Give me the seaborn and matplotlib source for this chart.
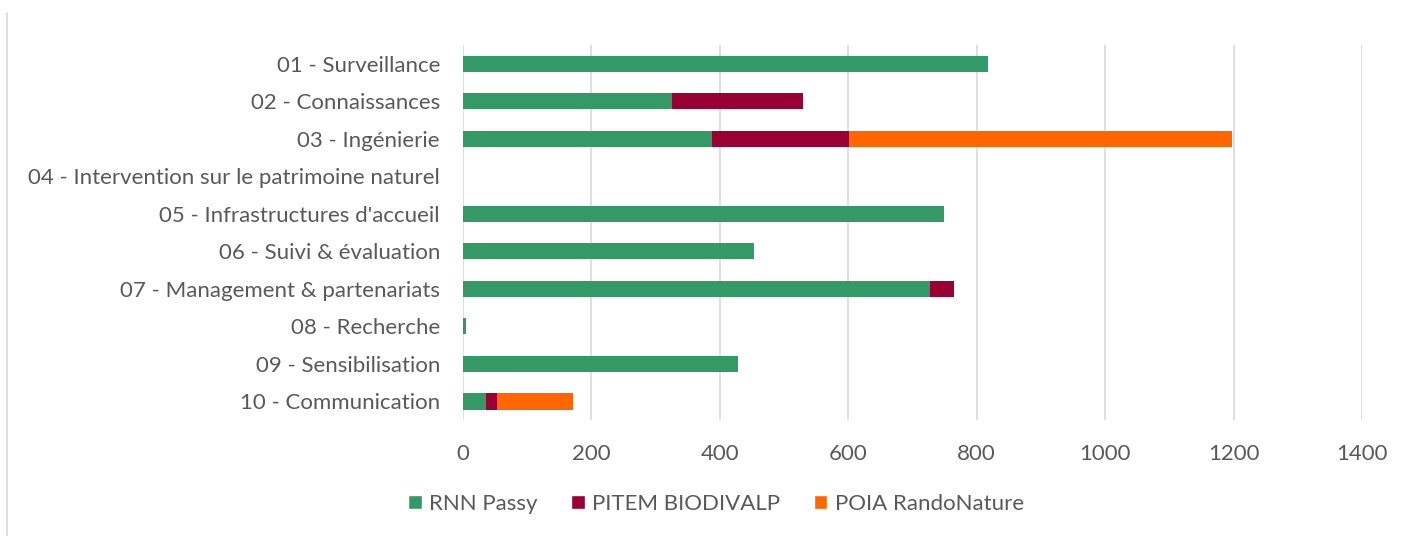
import pandas as pd
import numpy as np
import matplotlib
matplotlib.use("Agg")
import matplotlib.pyplot as plt
import seaborn as sns
from matplotlib.patches import Patch
from matplotlib.lines import Line2D

categories = [
    "01 - Surveillance",
    "02 - Connaissances",
    "03 - Ingénierie",
    "04 - Intervention sur le patrimoine naturel",
    "05 - Infrastructures d'accueil",
    "06 - Suivi & évaluation",
    "07 - Management & partenariats",
    "08 - Recherche",
    "09 - Sensibilisation",
    "10 - Communication",
]
rnn_passy = [817, 325, 388, 0, 749, 453, 727, 5, 429, 36]
pitem_biodivalp = [0, 204, 213, 0, 0, 0, 37, 0, 0, 17]
poia_randonature = [0, 0, 596, 0, 0, 0, 0, 0, 0, 119]
series_names = ["RNN Passy", "PITEM BIODIVALP", "POIA RandoNature"]
xticks = [0, 200, 400, 600, 800, 1000, 1200, 1400]

colors = ["#339966", "#990033", "#FF6600"]
text_color = "#595959"

df = pd.DataFrame({
    "cat": categories,
    "a": rnn_passy,
    "b": pitem_biodivalp,
    "c": poia_randonature,
})
df["ab"] = df["a"] + df["b"]
df["abc"] = df["ab"] + df["c"]

sns.set_theme(style="white")
plt.rcParams["font.family"] = ["Lato", "DejaVu Sans"]
fs = 16

fig = plt.figure(figsize=(14.07, 5.36), dpi=100)
ax = fig.add_axes([0.329, 0.216, 0.639, 0.700])

# stacked: draw cumulative totals from largest to smallest
for col, c in zip(["abc", "ab", "a"], colors[::-1]):
    sns.barplot(data=df, y="cat", x=col, orient="h", color=c, width=0.43,
                saturation=1, ax=ax, order=categories, zorder=3, linewidth=0)

ax.set_xlim(0, 1400)
ax.set_ylim(9.5, -0.5)
ax.set_xticks(xticks)
ax.set_xticklabels([str(t) for t in xticks])
ax.set_xlabel("")
ax.set_ylabel("")
ax.grid(axis="x", color="#d9d9d9", linewidth=1.2, zorder=0)
ax.grid(axis="y", visible=False)
for s in ax.spines.values():
    s.set_visible(False)
ax.tick_params(axis="both", length=0, colors=text_color, labelsize=fs)
ax.tick_params(axis="x", pad=17)
ax.tick_params(axis="y", pad=16.5)

handles = [Patch(facecolor=c, label=n) for c, n in zip(colors, series_names)]
fig.legend(handles=handles, loc="center", bbox_to_anchor=(0.509, 0.06), ncol=3,
           frameon=False, fontsize=fs, handlelength=0.6, handleheight=0.6,
           handletextpad=0.35, columnspacing=1.5, labelcolor=text_color)

# outer chart frame (left edge visible)
fig.add_artist(Line2D([0.005, 0.005], [0.0, 0.975], color="#d9d9d9",
                      linewidth=1.2, transform=fig.transFigure))

fig.savefig("out.png", dpi=100)
